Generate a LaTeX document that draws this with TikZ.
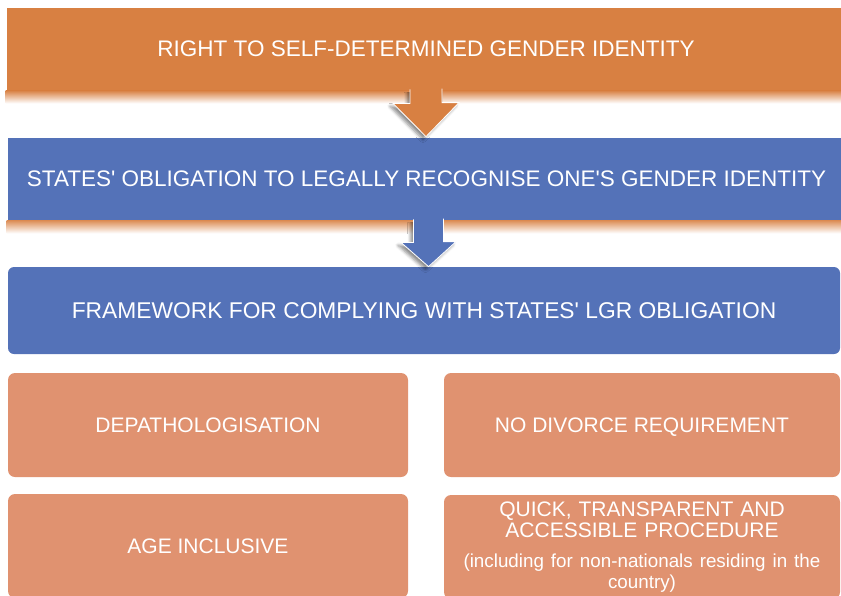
\documentclass[tikz,border=0pt]{standalone}
\usepackage{fontspec}
\setmainfont{Liberation Sans}
\usetikzlibrary{calc,shadows.blur}
\definecolor{rightorange}{RGB}{216,128,66}
\definecolor{stateblue}{RGB}{84,114,184}
\definecolor{itemorange}{RGB}{224,146,112}
\tikzset{
  bandbox/.style={rectangle, draw=white, line width=0.8pt, text=white, inner sep=0pt, font=\fontsize{22.5}{24}\selectfont},
  itembox/.style={rectangle, rounded corners=7pt, fill=itemorange, text=white, inner sep=0pt, minimum height=104pt, align=center, font=\fontsize{21}{21}\selectfont},
  blockarrow/.style={draw=white, line width=0.8pt, line join=miter, blur shadow={shadow xshift=-3pt, shadow yshift=-3pt, shadow blur radius=3pt, shadow opacity=45}}
}
\begin{document}
\begin{tikzpicture}[x=1pt,y=-1pt]
\useasboundingbox (0,0) rectangle (841,595);
\clip (0,0) rectangle (841,595);
% bands
\node[bandbox, fill=rightorange, minimum width=840pt, minimum height=83pt] (right) at (426,48.5) {RIGHT TO SELF-DETERMINED GENDER IDENTITY};
\node[bandbox, fill=stateblue, minimum width=839pt, minimum height=83pt] (states) at (426.5,178.5) {STATES\textquotesingle{} OBLIGATION TO LEGALLY RECOGNISE ONE\textquotesingle{}S GENDER IDENTITY};
\node[bandbox, draw=none, rounded corners=6pt, fill=stateblue, minimum width=832pt, minimum height=87pt, font=\fontsize{22.8}{24}\selectfont] (frame) at (424,310.5) {FRAMEWORK FOR COMPLYING WITH STATES\textquotesingle{} LGR OBLIGATION};
\shade[top color=rightorange, bottom color=white] (right.south west) rectangle ($(right.south east)+(0,13)$);
\shade[top color=rightorange!90, bottom color=white] (states.south west) rectangle ($(states.south east)+(0,13)$);
% arrows
\filldraw[blockarrow, fill=rightorange] ($(right.south)+(-16,-1)$) -- ++(0,14) -- ++(-17,0) -- (right.south |- states.north) -- ++(33,-34) -- ++(-17,0) -- ++(0,-14);
\filldraw[blockarrow, fill=stateblue] ($(states.south)+(-13,-1)$) -- ++(0,23) -- ++(-12.5,0) -- ($(states.south |- frame.north)+(2,0)$) -- ++(27.5,-25) -- ++(-12.5,0) -- ++(0,-23);
% items
\node[itembox, minimum width=400pt] (depath) at (208,425) {DEPATHOLOGISATION};
\node[itembox, minimum width=396pt, text depth=0pt] (divorce) at (642,425) {NO DIVORCE REQUIREMENT};
\node[itembox, minimum width=400pt] (age) at (208,546) {AGE INCLUSIVE};
\node[itembox, minimum width=396pt, text width=390pt] (quick) at (642,547) {QUICK, TRANSPARENT AND\\ACCESSIBLE PROCEDURE\\[10pt]\fontsize{18.8}{20}\selectfont (including for non-nationals residing in the\\country)};
\end{tikzpicture}
\end{document}
